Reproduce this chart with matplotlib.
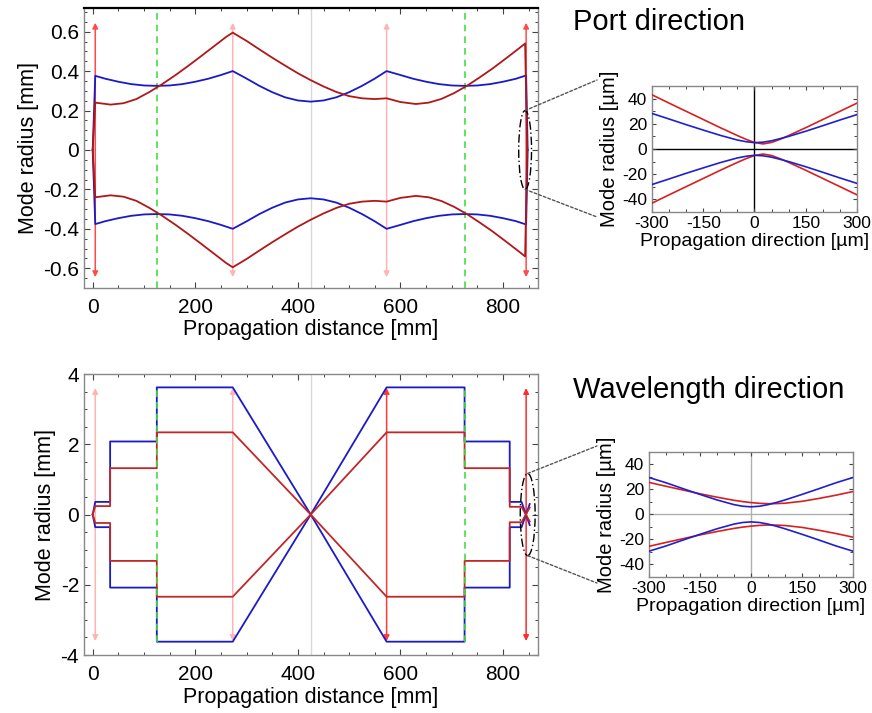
import matplotlib
matplotlib.use("Agg")
import matplotlib.pyplot as plt
from matplotlib.patches import Ellipse, ConnectionPatch
from matplotlib.ticker import MultipleLocator, FixedLocator

plt.rcParams['font.family'] = ['Liberation Sans', 'DejaVu Sans']
plt.rcParams['axes.unicode_minus'] = False

# ---------------- data ----------------
# Port direction (upper envelope, mm); lower envelope is the mirror image
x_port_blue = [0, 5, 25, 50, 75, 100, 125, 150, 175, 200, 225, 250, 273, 300, 325, 350, 375, 400,
               425, 450, 475, 500, 525, 550, 573, 600, 625, 650, 675, 700, 725, 750, 775, 800,
               825, 845, 848]
y_port_blue = [0, 0.376, 0.361, 0.346, 0.334, 0.327, 0.325, 0.327, 0.334, 0.346, 0.361, 0.380,
               0.40, 0.362, 0.325, 0.293, 0.267, 0.251, 0.245, 0.251, 0.267, 0.293, 0.325, 0.362,
               0.40, 0.380, 0.361, 0.346, 0.334, 0.327, 0.325, 0.327, 0.334, 0.346, 0.361, 0.378, 0]
x_port_red = [0, 5, 35, 60, 85, 110, 135, 160, 185, 210, 235, 260, 273, 300, 325, 350, 375, 400,
              425, 450, 475, 500, 525, 550, 573, 600, 630, 655, 680, 705, 730, 755, 780, 805,
              830, 843, 847]
y_port_red = [0, 0.240, 0.230, 0.237, 0.258, 0.293, 0.333, 0.377, 0.424, 0.473, 0.523, 0.573,
              0.595, 0.553, 0.510, 0.468, 0.428, 0.389, 0.354, 0.322, 0.294, 0.273, 0.262, 0.258,
              0.262, 0.243, 0.233, 0.240, 0.259, 0.289, 0.326, 0.369, 0.414, 0.463, 0.513, 0.54, 0]

# Wavelength direction (upper envelope, mm)
x_wl_blue = [0, 5, 34, 34, 125, 125, 273, 425, 573, 725, 725, 813, 813, 836, 852]
y_wl_blue = [0, 0.36, 0.36, 2.08, 2.08, 3.62, 3.62, 0, 3.62, 3.62, 2.08, 2.08, 0.36, 0.36, -0.30]
x_wl_red = [0, 5, 34, 34, 125, 125, 273, 425, 573, 725, 725, 813, 813, 836, 852]
y_wl_red = [0, 0.24, 0.24, 1.32, 1.32, 2.34, 2.34, 0, 2.34, 2.34, 1.32, 1.32, 0.22, 0.22, -0.20]

# Zoomed focus (µm)
x_zoom = [-300, -250, -200, -150, -100, -50, -25, 0, 25, 50, 75, 100, 150, 200, 250, 300]
port_red_um = [43, 36.4, 29.9, 23.4, 16.9, 10.65, 7.7, 5.2, 4.0, 5.2, 7.7, 10.65, 16.9, 23.4, 29.9, 36.4]
port_blue_um = [28.2, 23.8, 19.3, 15.0, 10.8, 7.1, 5.8, 5.0, 5.4, 6.5, 8.2, 10.0, 14.1, 18.5, 23.0, 27.3]
wl_red_um = [25.5, 22.4, 19.4, 16.4, 13.7, 11.2, 10.2, 9.4, 8.8, 8.5, 8.6, 8.9, 10.4, 12.7, 15.3, 18.2]
wl_blue_um = [29.4, 25.2, 20.5, 15.9, 11.5, 7.75, 6.5, 6.0, 6.5, 7.75, 9.5, 11.5, 15.9, 20.5, 25.2, 29.4]

lens_x = [5, 273, 573, 845]
port_arrow_half = 0.645
wl_arrow_half = 3.6
port_arrow_colors = ['#ff4a4a', '#ffb4b4', '#ffb4b4', '#ff4a4a']
wl_arrow_colors = ['#ffb4b4', '#ffb4b4', '#ff3a3a', '#ff2a2a']
green_x = [125, 725]
center_x = 425

BLUE = '#1a1ac8'
RED = '#b01818'
RED2 = '#c02828'

fig = plt.figure(figsize=(8.72, 7.13), dpi=100)

ax1 = fig.add_axes([0.0963, 0.5961, 0.5206, 0.3927])
ax2 = fig.add_axes([0.0963, 0.0813, 0.5206, 0.3941])
ins1 = fig.add_axes([0.7477, 0.7027, 0.2351, 0.1767])
ins2 = fig.add_axes([0.7443, 0.1907, 0.2339, 0.1758])


def style(ax, fs, spine_color='#888888'):
    for s in ax.spines.values():
        s.set_color(spine_color)
        s.set_linewidth(1.0)
    ax.tick_params(which='both', direction='in', top=True, right=True, colors='#444444',
                   labelcolor='black', labelsize=fs)
    ax.tick_params(which='major', length=4, width=0.8)
    ax.tick_params(which='minor', length=2.5, width=0.7)


def draw_arrows(ax, half, colors):
    for x, c in zip(lens_x, colors):
        ax.annotate('', xy=(x, half), xytext=(x, -half),
                    arrowprops=dict(arrowstyle='<|-|>', color=c, lw=1.1,
                                    mutation_scale=8, shrinkA=0, shrinkB=0), zorder=2)


# ---------- top main: port direction ----------
ax = ax1
ax.axvline(center_x, color='#d8d8d8', lw=1, zorder=1)
for gx in green_x:
    ax.axvline(gx, color='#44dd44', lw=1.2, ls=(0, (4, 3)), zorder=1)
draw_arrows(ax, port_arrow_half, port_arrow_colors)
ax.plot(x_port_blue, y_port_blue, color=BLUE, lw=1.3, zorder=3)
ax.plot(x_port_blue, [-v for v in y_port_blue], color=BLUE, lw=1.3, zorder=3)
ax.plot(x_port_red, y_port_red, color=RED, lw=1.3, zorder=3)
ax.plot(x_port_red, [-v for v in y_port_red], color=RED, lw=1.3, zorder=3)
ax.add_patch(Ellipse((843, 0), 25, 0.40, fill=False, ec='black', lw=1,
                     ls=(0, (6, 2, 1, 2)), zorder=4))
ax.set_xlim(-17, 868)
ax.set_ylim(-0.70, 0.72)
ax.xaxis.set_major_locator(FixedLocator([0, 200, 400, 600, 800]))
ax.xaxis.set_minor_locator(MultipleLocator(50))
yt = [-0.6, -0.4, -0.2, 0, 0.2, 0.4, 0.6]
ax.set_yticks(yt)
ax.set_yticklabels(['-0.6', '-0.4', '-0.2', '0', '0.2', '0.4', '0.6'])
ax.yaxis.set_minor_locator(MultipleLocator(0.05))
style(ax, 15)
ax.spines['top'].set_color('black')
ax.spines['top'].set_linewidth(1.6)
ax.tick_params(axis='x', which='major', pad=7)
ax.set_xlabel('Propagation distance [mm]', fontsize=15.5, labelpad=2)
ax.set_ylabel('Mode radius [mm]', fontsize=15.5, labelpad=3)

# ---------- bottom main: wavelength direction ----------
ax = ax2
ax.axvline(center_x, color='#d8d8d8', lw=1, zorder=1)
for gx in green_x:
    ax.plot([gx, gx], [-3.62, 3.62], color='#44dd44', lw=1.2, ls=(0, (4, 3)), zorder=4)
draw_arrows(ax, wl_arrow_half, wl_arrow_colors)
ax.plot(x_wl_blue, y_wl_blue, color=BLUE, lw=1.3, zorder=3)
ax.plot(x_wl_blue, [-v for v in y_wl_blue], color=BLUE, lw=1.3, zorder=3)
ax.plot(x_wl_red, y_wl_red, color=RED2, lw=1.3, zorder=3)
ax.plot(x_wl_red, [-v for v in y_wl_red], color=RED2, lw=1.3, zorder=3)
ax.add_patch(Ellipse((848, 0), 29, 2.34, fill=False, ec='black', lw=1,
                     ls=(0, (6, 2, 1, 2)), zorder=4))
ax.set_xlim(-17, 868)
ax.set_ylim(-4, 4)
ax.xaxis.set_major_locator(FixedLocator([0, 200, 400, 600, 800]))
ax.xaxis.set_minor_locator(MultipleLocator(50))
ax.set_yticks([-4, -2, 0, 2, 4])
ax.set_yticklabels(['-4', '-2', '0', '2', '4'])
ax.yaxis.set_minor_locator(MultipleLocator(0.5))
style(ax, 15)
ax.tick_params(axis='x', which='major', pad=7)
ax.set_xlabel('Propagation distance [mm]', fontsize=15.5, labelpad=2)
ax.set_ylabel('Mode radius [mm]', fontsize=15.5, labelpad=3)

# ---------- insets ----------
for ins, red_um, blue_um, zc in [(ins1, port_red_um, port_blue_um, 'black'),
                                  (ins2, wl_red_um, wl_blue_um, '#b0b0b0')]:
    ins.axhline(0, color=zc, lw=1, zorder=1)
    ins.axvline(0, color=zc, lw=1, zorder=1)
    ins.plot(x_zoom, red_um, color='#d82020', lw=1.2, zorder=3)
    ins.plot(x_zoom, [-v for v in red_um], color='#d82020', lw=1.2, zorder=3)
    ins.plot(x_zoom, blue_um, color='#2020cc', lw=1.2, zorder=3)
    ins.plot(x_zoom, [-v for v in blue_um], color='#2020cc', lw=1.2, zorder=3)
    ins.set_xlim(-300, 300)
    ins.set_ylim(-50, 50)
    ins.set_xticks([-300, -150, 0, 150, 300])
    ins.set_xticklabels(['-300', '-150', '0', '150', '300'])
    ins.xaxis.set_minor_locator(MultipleLocator(50))
    ins.set_yticks([-40, -20, 0, 20, 40])
    ins.set_yticklabels(['-40', '-20', '0', '20', '40'])
    ins.yaxis.set_minor_locator(MultipleLocator(10))
    style(ins, 12.5)
    ins.tick_params(which='major', length=3)
    ins.tick_params(which='minor', length=2)
    ins.tick_params(axis='x', which='major', pad=3)
    ins.set_xlabel('Propagation direction [µm]', fontsize=14, labelpad=1)
    ins.set_ylabel('Mode radius [µm]', fontsize=14.5, labelpad=2)

# ---------- connectors ----------
for axm, xy_top, xy_bot, f_top, f_bot in [
        (ax1, (843, 0.20), (843, -0.20), (0.6846, 0.8878), (0.6846, 0.6957)),
        (ax2, (848, 1.17), (848, -1.17), (0.6846, 0.3745), (0.6846, 0.1823))]:
    for a, b in [(xy_top, f_top), (xy_bot, f_bot)]:
        cp = ConnectionPatch(xyA=a, coordsA=axm.transData, xyB=b, coordsB=fig.transFigure,
                             color='#555555', lw=1, ls=(0, (2, 1.5)))
        fig.add_artist(cp)

fig.text(0.657, 0.969, 'Port direction', fontsize=21, va='center', ha='left')
fig.text(0.657, 0.453, 'Wavelength direction', fontsize=21, va='center', ha='left')

fig.savefig('out.png', dpi=100)
